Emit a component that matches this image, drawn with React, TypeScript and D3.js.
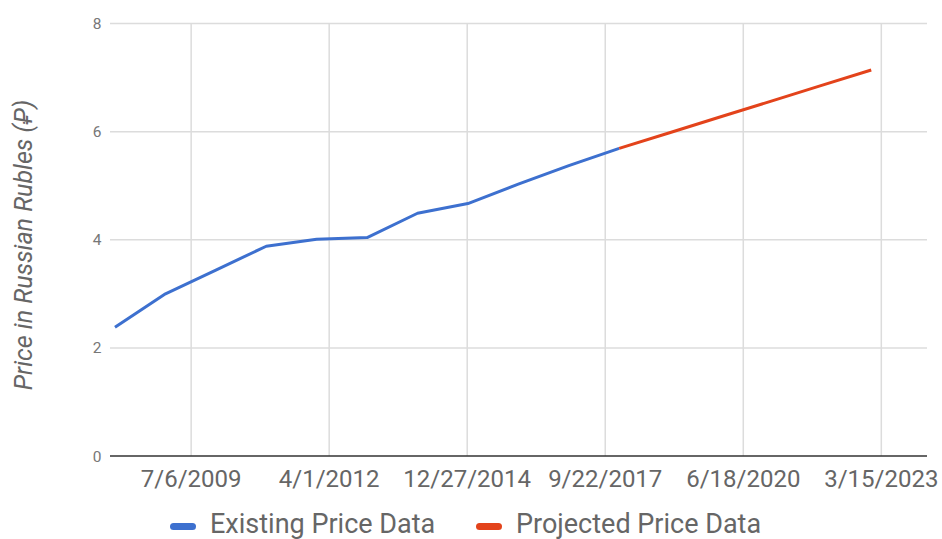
import React, { useRef, useEffect } from 'react';
import * as d3 from 'd3';

// yearly prices, Jan 1 of each year
const existingYears = [2008, 2009, 2010, 2011, 2012, 2013, 2014, 2015, 2016, 2017, 2018];
const existingValues = [2.38, 3.0, 3.44, 3.88, 4.01, 4.04, 4.49, 4.67, 5.03, 5.37, 5.69];

const projectedYears = [2018, 2019, 2020, 2021, 2022, 2023];
const projectedValues = [5.69, 5.98, 6.27, 6.56, 6.85, 7.14];

const xTickLabels = ['7/6/2009', '4/1/2012', '12/27/2014', '9/22/2017', '6/18/2020', '3/15/2023'];
const yTicks = [0, 2, 4, 6, 8];

const seriesNames = ['Existing Price Data', 'Projected Price Data'];
const seriesColors = ['#3d70cf', '#e3431b'];

const App = () => {
    const ref = useRef(null);

    useEffect(() => {
        const width = 942, height = 539;
        const left = 110, right = 927, top = 23.5, bottom = 456;

        d3.select(ref.current).selectAll('*').remove();

        const svg = d3.select(ref.current)
            .append('svg')
            .attr('width', width)
            .attr('height', height)
            .style('position', 'absolute')
            .style('left', 0)
            .style('top', 0)
            .style('background', 'white')
            .style('font-family', 'Roboto, sans-serif');

        const x = d3.scaleTime()
            .domain([new Date(2007, 10, 26), new Date(2024, 1, 9)])
            .range([left, right]);

        const y = d3.scaleLinear()
            .domain([0, 8])
            .range([bottom, top]);

        const parseTick = d3.timeParse('%m/%d/%Y');
        const tickDates = xTickLabels.map(t => parseTick(t));

        // grid
        svg.append('g')
            .selectAll('line')
            .data(yTicks.filter(t => t !== 0))
            .join('line')
            .attr('x1', left).attr('x2', right)
            .attr('y1', d => y(d)).attr('y2', d => y(d))
            .attr('stroke', '#dcdcdc')
            .attr('stroke-width', 1.5);

        svg.append('g')
            .selectAll('line')
            .data(tickDates)
            .join('line')
            .attr('x1', d => x(d)).attr('x2', d => x(d))
            .attr('y1', top).attr('y2', bottom)
            .attr('stroke', '#dcdcdc')
            .attr('stroke-width', 1.5);

        // y labels
        svg.append('g')
            .selectAll('text')
            .data(yTicks)
            .join('text')
            .attr('x', 101.5)
            .attr('y', d => y(d) + 5.5)
            .attr('text-anchor', 'end')
            .attr('font-size', 15.5)
            .attr('fill', '#777')
            .text(d => d);

        // x labels
        svg.append('g')
            .selectAll('text')
            .data(tickDates)
            .join('text')
            .attr('x', d => x(d))
            .attr('y', 487)
            .attr('text-anchor', 'middle')
            .attr('font-size', 24)
            .attr('fill', '#666')
            .text((d, i) => xTickLabels[i]);

        // baseline
        svg.append('line')
            .attr('x1', left).attr('x2', right)
            .attr('y1', y(0)).attr('y2', y(0))
            .attr('stroke', '#333')
            .attr('stroke-width', 1.5);

        // axis title
        svg.append('text')
            .attr('transform', 'translate(32,245) rotate(-90)')
            .attr('text-anchor', 'middle')
            .attr('font-size', 25)
            .attr('font-style', 'italic')
            .attr('fill', '#666')
            .text('Price in Russian Rubles (₽)');

        const line = d3.line()
            .x(d => x(new Date(d[0], 0, 1)))
            .y(d => y(d[1]));

        const series = [
            d3.zip(existingYears, existingValues),
            d3.zip(projectedYears, projectedValues)
        ];

        series.forEach((s, i) => {
            svg.append('path')
                .datum(s)
                .attr('d', line)
                .attr('fill', 'none')
                .attr('stroke', seriesColors[i])
                .attr('stroke-width', 3)
                .attr('stroke-linejoin', 'round');
        });

        // legend
        const legendX = [170, 476];
        const legend = svg.append('g')
            .selectAll('g')
            .data(seriesNames)
            .join('g')
            .attr('transform', (d, i) => 'translate(' + legendX[i] + ',0)');

        legend.append('rect')
            .attr('x', 0).attr('y', 523)
            .attr('width', 26).attr('height', 7)
            .attr('rx', 3.5)
            .attr('fill', (d, i) => seriesColors[i]);

        legend.append('text')
            .attr('x', 40)
            .attr('y', 533)
            .attr('font-size', 27)
            .attr('fill', '#666')
            .text(d => d);

    }, []);

    return (
        <div ref={ref} />
    );
};

export default App;
